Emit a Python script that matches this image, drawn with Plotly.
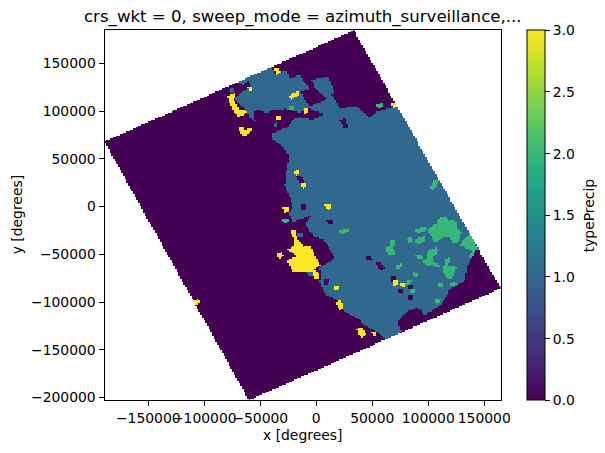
import numpy as np
import plotly.graph_objects as go

# Field patches of typePrecip, as outlines in thousands of x / y units.
SCAN_FOOTPRINT = [(-189.1, 68.2), (33.7, 184.8), (165.2, -85.3), (-60.0, -202.7)]

TYPE1_AREA = [
    (-71.1, 132.0), (-39.9, 147.4), (-36.9, 139.0), (-25.9, 142.5), (-22.9, 133.4), (-15.2, 138.6),
    (-5.7, 122.9), (-1.2, 125.0), (-4.2, 132.7), (10.7, 136.2), (16.7, 120.5), (13.7, 118.0),
    (21.7, 102.7), (36.0, 105.5), (47.9, 93.6), (53.9, 99.5), (73.2, 105.5), (85.0, 105.5),
    (160.0, -44.8), (143.2, -44.8), (135.8, -59.5), (132.8, -76.9), (119.4, -87.4), (113.4, -101.3),
    (104.5, -108.3), (96.5, -113.6), (91.1, -104.8), (80.7, -110.1), (72.6, -120.5), (76.2, -130.3),
    (70.0, -145.0), (60.0, -145.0), (61.3, -138.0), (53.9, -131.0), (43.5, -124.0), (37.5, -117.0),
    (25.6, -110.0), (18.2, -97.8), (9.2, -92.6), (2.7, -78.6), (4.8, -75.2), (3.3, -63.0),
    (16.7, -54.2), (6.3, -33.3), (-1.2, -32.2), (-10.1, -18.3), (-4.2, -8.8), (-20.5, -15.8),
    (-24.1, -7.1), (-20.5, 1.7), (-28.0, 22.6), (-25.9, 41.8), (-23.5, 52.3), (-31.0, 64.6),
    (-38.4, 69.8), (-38.4, 76.8), (-32.5, 80.3), (-25.0, 83.1), (-20.5, 91.5), (-14.6, 93.6),
    (-2.7, 90.8), (6.8, 97.1), (1.8, 99.5), (-7.1, 103.0), (-14.6, 98.5), (-22.0, 101.3),
    (-28.0, 102.3), (-39.9, 101.3), (-42.9, 97.8), (-53.3, 102.0), (-56.3, 99.5), (-54.8, 90.1),
    (-59.2, 92.5), (-62.8, 101.3), (-71.1, 110.0), (-72.6, 113.5), (-65.2, 120.5), (-57.8, 127.5),
    (-60.7, 131.0), (-65.2, 127.5),
]

TYPE0_GAPS = [
    [(-13.7, 120.5), (-1.2, 125.0), (9.8, 112.4), (-5.7, 105.5), (-11.0, 113.5)],
    [(21.1, 90.8), (26.5, 92.5), (28.6, 82.0), (24.7, 82.0)],
    [(-18.1, 33.1), (-13.1, 31.4), (-10.1, 24.4), (-13.1, 22.6)],
    [(-13.1, 2.4), (-8.6, 1.7), (-10.1, -4.3), (-13.1, -3.6)],
    [(9.2, -14.0), (14.6, -14.0), (14.6, -18.3), (10.7, -19.3)],
    [(44.4, -51.8), (49.4, -50.7), (50.3, -55.3), (45.6, -56.7)],
    [(53.9, -57.7), (57.5, -57.7), (61.3, -64.7), (56.9, -67.1)],
    [(67.3, -72.7), (71.8, -72.7), (71.8, -77.0), (67.3, -78.7)],
    [(73.2, -85.6), (77.7, -85.6), (77.1, -90.2), (73.2, -90.9)],
    [(82.2, -82.1), (86.6, -82.1), (86.6, -85.6), (82.8, -86.7)],
    [(82.2, -92.6), (86.6, -92.6), (86.6, -97.8), (82.8, -97.8)],
    [(7.2, -76.2), (11.6, -76.2), (10.7, -81.0), (7.2, -81.0)],
]

TYPE1_SPOTS = [
    [(-77.7, 122.9), (-74.1, 124.0), (-72.6, 120.5), (-76.5, 118.7)],
    [(-38.4, 88.0), (-34.8, 89.0), (-33.9, 83.8), (-37.8, 83.0)],
    [(-16.7, -27.3), (-11.6, -27.3), (-13.1, -32.2), (-16.0, -31.5)],
    [(-8.6, -68.2), (-3.3, -67.2), (-3.3, -72.7), (-7.1, -72.7)],
]

TYPE2_PATCHES = [
    [(106.0, 28.6), (111.0, 27.9), (107.5, 21.6), (104.5, 17.4), (101.5, 20.2)],
    [(21.1, -25.2), (29.5, -21.7), (30.7, -24.5), (22.6, -29.8)],
    [(88.4, -23.8), (98.0, -20.4), (98.6, -24.5), (89.6, -28.0)],
    [(100.0, -24.5), (107.5, -17.5), (109.0, -12.3), (116.4, -10.6), (119.4, -14.1), (125.4, -14.8),
     (126.8, -24.5), (130.4, -26.3), (126.8, -36.8), (122.4, -38.5), (119.4, -32.2), (113.4, -32.2),
     (106.0, -37.8), (103.0, -31.5)],
    [(131.3, -35.0), (137.3, -28.0), (140.2, -34.3), (144.7, -44.8), (141.7, -47.2), (135.8, -44.8),
     (129.2, -40.2)],
    [(135.8, -50.7), (140.2, -47.2), (141.7, -50.7), (137.8, -54.2)],
    [(88.1, -34.3), (97.1, -30.8), (98.0, -35.7), (89.6, -40.2)],
    [(81.0, -33.3), (85.1, -31.5), (87.2, -35.7), (82.2, -37.8)],
    [(65.8, -35.0), (70.3, -34.3), (71.2, -38.5), (68.8, -41.3), (70.3, -49.0), (65.8, -51.8),
     (62.2, -43.7), (66.4, -40.2)],
    [(100.0, -45.5), (107.5, -42.7), (109.0, -46.5), (105.1, -52.5), (106.0, -59.5), (100.0, -61.9),
     (95.6, -57.7), (98.6, -53.2)],
    [(89.0, -50.7), (95.0, -49.7), (95.6, -54.2), (91.1, -55.3)],
    [(104.5, -59.5), (109.0, -58.8), (111.0, -63.0), (106.9, -63.7)],
    [(115.0, -55.3), (119.4, -53.2), (120.9, -57.7), (117.9, -60.2), (119.4, -63.0), (124.4, -61.2),
     (125.3, -64.7), (120.9, -75.2), (116.4, -75.2), (112.8, -63.0), (114.9, -61.2)],
    [(71.2, -60.2), (76.2, -59.5), (76.2, -63.7), (72.4, -65.0)],
    [(86.6, -68.2), (92.0, -70.0), (90.2, -74.1), (86.6, -72.7)],
    [(108.9, -79.3), (114.9, -79.3), (113.4, -83.9), (109.9, -83.9)],
    [(120.9, -78.6), (125.9, -79.7), (123.8, -83.9), (120.0, -82.1)],
    [(80.7, -76.9), (85.1, -76.2), (84.2, -81.1), (80.1, -81.1)],
    [(84.6, -85.6), (89.0, -86.7), (87.2, -90.9), (83.7, -90.2)],
    [(106.9, -96.1), (111.9, -97.1), (109.9, -102.4), (106.0, -101.3)],
    [(-25.0, 106.5), (-20.5, 106.5), (-19.9, 102.0), (-24.1, 101.3)],
    [(53.9, 106.5), (59.2, 109.0), (60.4, 104.1), (55.4, 103.0)],
    [(-29.5, -12.3), (-25.0, -12.3), (-24.1, -14.8), (-27.1, -17.5), (-29.5, -15.8)],
]

TYPE3_PATCHES = [
    [(-79.5, 116.0), (-72.6, 119.4), (-71.7, 115.2), (-74.1, 112.4), (-68.2, 101.3), (-62.8, 102.0),
     (-62.2, 98.8), (-68.8, 93.2), (-72.6, 97.8), (-77.1, 108.3)],
    [(-61.3, 125.7), (-56.9, 126.4), (-56.9, 122.2), (-59.8, 120.1)],
    [(-37.8, 143.9), (-34.0, 145.6), (-31.6, 141.4), (-35.4, 137.9)],
    [(-25.0, 116.3), (-16.1, 121.2), (-14.6, 117.0), (-22.0, 112.4)],
    [(-11.6, 102.0), (-8.0, 103.7), (-6.6, 99.5), (-10.1, 96.7)],
    [(-36.9, 95.0), (-32.4, 96.0), (-31.0, 92.5), (-34.8, 90.1)],
    [(-69.7, 83.1), (-65.8, 84.5), (-63.7, 81.0), (-57.8, 82.0), (-57.8, 78.6), (-64.6, 73.3), (-68.2, 78.6)],
    [(67.3, 109.0), (71.7, 110.0), (73.8, 105.5), (68.8, 103.0)],
    [(-19.6, 37.6), (-15.2, 38.3), (-15.2, 34.2), (-18.1, 31.4)],
    [(-13.7, 24.4), (-8.6, 24.4), (-9.2, 20.2), (-12.5, 18.4)],
    [(7.8, 1.7), (12.8, 2.7), (13.7, -0.8), (10.7, -3.6)],
    [(-29.5, -1.1), (-25.0, -0.8), (-23.5, -4.6), (-28.0, -6.4)],
    [(-23.5, -25.6), (-19.0, -24.5), (-17.0, -32.2), (-11.6, -42.0), (-5.6, -40.3), (3.9, -61.2),
     (-2.7, -66.4), (1.8, -68.2), (3.3, -75.2), (-1.2, -75.2), (-4.2, -67.2), (-20.5, -68.2),
     (-26.5, -56.0), (-18.1, -52.5), (-19.6, -48.3), (-26.5, -45.5), (-20.5, -42.0), (-19.0, -38.5),
     (-20.5, -31.5)],
    [(-34.8, -49.0), (-30.9, -47.2), (-28.9, -50.7), (-31.8, -54.2), (-34.8, -51.8)],
    [(15.8, -83.9), (19.7, -82.1), (21.1, -85.6), (17.6, -88.0)],
    [(17.6, -99.6), (21.7, -97.8), (24.7, -105.5), (21.1, -108.3)],
    [(36.0, -127.5), (40.5, -125.8), (44.4, -133.5), (40.5, -137.3), (37.5, -132.8)],
    [(49.4, -131.0), (54.5, -130.3), (54.5, -134.5), (51.5, -136.3)],
    [(68.8, -76.9), (73.2, -76.9), (73.2, -82.1), (69.4, -82.8)],
    [(74.7, -79.3), (80.1, -79.3), (80.1, -83.9), (76.2, -84.6)],
    [(-110.0, -98.0), (-105.0, -97.0), (-103.0, -100.0), (-107.0, -103.0)],
]

AXIS_TICKS_X = [-150000, -100000, -50000, 0, 50000, 100000, 150000]
AXIS_TICKS_Y = [-200000, -150000, -100000, -50000, 0, 50000, 100000, 150000]
X_LIMITS = [-189100, 165200]
Y_LIMITS = [-203000, 184800]
GRID_STEP = 1500

FONT = "DejaVu Sans"
W, H = 605, 453
LEFT, RIGHT, TOP, BOTTOM = 104.5, 501.3, 30.3, 400.3

x_grid = np.arange(X_LIMITS[0] + GRID_STEP / 2, X_LIMITS[1], GRID_STEP)
y_grid = np.arange(Y_LIMITS[0] + GRID_STEP / 2, Y_LIMITS[1], GRID_STEP)
xx, yy = np.meshgrid(x_grid, y_grid)


def inside(outline):
    """Even-odd test of every grid centre against a closed outline."""
    pts = np.asarray(outline, dtype=float) * 1000
    px, py = pts[:, 0], pts[:, 1]
    qx, qy = np.roll(px, -1), np.roll(py, -1)
    hit = np.zeros(xx.shape, dtype=bool)
    for ax, ay, bx, by in zip(px, py, qx, qy):
        if ay == by:
            continue
        crosses = (ay > yy) != (by > yy)
        hit ^= crosses & (xx < ax + (yy - ay) * (bx - ax) / (by - ay))
    return hit


footprint = inside(SCAN_FOOTPRINT)
field = np.zeros(xx.shape)
field[inside(TYPE1_AREA)] = 1
for patch in TYPE0_GAPS:
    field[inside(patch)] = 0
for patch in TYPE1_SPOTS:
    field[inside(patch)] = 1
for patch in TYPE2_PATCHES:
    field[inside(patch)] = 2
for patch in TYPE3_PATCHES:
    field[inside(patch)] = 3

z = [[float(v) if ok else None for v, ok in zip(row, mask)] for row, mask in zip(field, footprint)]

fig = go.Figure(
    go.Heatmap(
        x=x_grid.tolist(),
        y=y_grid.tolist(),
        z=z,
        zmin=0,
        zmax=3,
        colorscale="Viridis",
        hoverongaps=False,
        colorbar=dict(
            x=526.7 / W,
            xanchor="left",
            xpad=0,
            y=1 - BOTTOM / H,
            yanchor="bottom",
            ypad=0,
            len=(BOTTOM - TOP) / H,
            lenmode="fraction",
            thickness=18,
            thicknessmode="pixels",
            outlinewidth=1,
            outlinecolor="black",
            tickmode="array",
            tickvals=[0, 0.5, 1, 1.5, 2, 2.5, 3],
            ticktext=["0.0", "0.5", "1.0", "1.5", "2.0", "2.5", "3.0"],
            ticks="outside",
            ticklen=5,
            tickwidth=1,
            tickcolor="black",
            tickfont=dict(family=FONT, size=13.9, color="black"),
        ),
    )
)

axis_style = dict(
    showgrid=False,
    zeroline=False,
    showline=True,
    mirror=True,
    linecolor="black",
    linewidth=1,
    ticks="outside",
    ticklen=5,
    tickwidth=1,
    tickcolor="black",
    tickangle=0,
    tickfont=dict(family=FONT, size=13.9, color="black"),
    tickformat="d",
    exponentformat="none",
)

fig.update_layout(
    width=W,
    height=H,
    margin=dict(l=0, r=0, t=0, b=0, autoexpand=False),
    paper_bgcolor="white",
    plot_bgcolor="white",
    font=dict(family=FONT, size=13.9, color="black"),
    xaxis=dict(
        axis_style,
        domain=[LEFT / W, RIGHT / W],
        range=X_LIMITS,
        tickmode="array",
        tickvals=AXIS_TICKS_X,
    ),
    yaxis=dict(
        axis_style,
        domain=[1 - BOTTOM / H, 1 - TOP / H],
        range=Y_LIMITS,
        tickmode="array",
        tickvals=AXIS_TICKS_Y,
    ),
    annotations=[
        dict(
            text="crs_wkt = 0, sweep_mode = azimuth_surveillance,...",
            xref="paper", yref="paper",
            x=302.7 / W, y=1 - 17.5 / H,
            xanchor="center", yanchor="middle",
            showarrow=False,
            font=dict(family=FONT, size=16.6, color="black"),
        ),
        dict(
            text="x [degrees]",
            xref="paper", yref="paper",
            x=(LEFT + RIGHT) / 2 / W, y=1 - 435 / H,
            xanchor="center", yanchor="middle",
            showarrow=False,
            font=dict(family=FONT, size=13.9, color="black"),
        ),
        dict(
            text="y [degrees]",
            xref="paper", yref="paper",
            x=17 / W, y=1 - (TOP + BOTTOM) / 2 / H,
            xanchor="center", yanchor="middle",
            textangle=-90,
            showarrow=False,
            font=dict(family=FONT, size=13.9, color="black"),
        ),
        dict(
            text="typePrecip",
            xref="paper", yref="paper",
            x=589 / W, y=1 - (TOP + BOTTOM) / 2 / H,
            xanchor="center", yanchor="middle",
            textangle=-90,
            showarrow=False,
            font=dict(family=FONT, size=13.9, color="black"),
        ),
    ],
)

fig.write_html("out.html")
